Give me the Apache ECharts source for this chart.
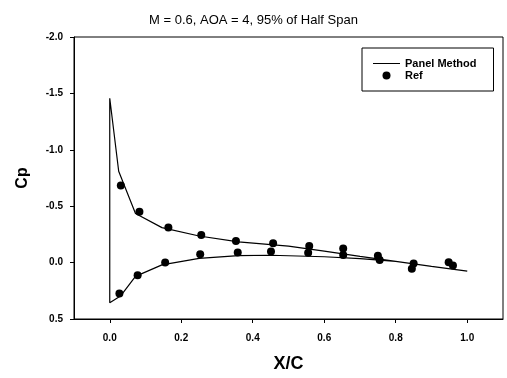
<!DOCTYPE html>
<html>
<head>
<meta charset="utf-8">
<script src="https://cdn.jsdelivr.net/npm/echarts@6/dist/echarts.min.js"></script>
<style>
  html, body { margin: 0; padding: 0; background: #fff; }
  #chart { width: 507px; height: 378px; }
</style>
</head>
<body>
<div id="chart"></div>
<script>
// panel method curve, upper surface from trailing edge to leading edge
const upperX = [1.0, 0.9, 0.8, 0.7, 0.6, 0.5, 0.36, 0.25, 0.146, 0.072, 0.025, 0.0];
const upperCp = [0.075, 0.034, -0.011, -0.056, -0.102, -0.146, -0.183, -0.236, -0.31, -0.436, -0.81, -1.457];
// lower surface from leading edge back to trailing edge
const lowerX = [0.0, 0.03, 0.072, 0.146, 0.25, 0.36, 0.45, 0.6, 0.7, 0.8, 0.9, 1.0];
const lowerCp = [0.355, 0.297, 0.122, 0.02, -0.038, -0.061, -0.065, -0.052, -0.035, -0.01, 0.034, 0.075];

// reference data points
const refUpperX = [0.031, 0.083, 0.164, 0.256, 0.353, 0.457, 0.558, 0.653, 0.75, 0.85, 0.948];
const refUpperCp = [-0.683, -0.451, -0.311, -0.244, -0.192, -0.172, -0.148, -0.125, -0.061, 0.009, -0.003];
const refLowerX = [0.027, 0.078, 0.155, 0.253, 0.358, 0.451, 0.555, 0.653, 0.755, 0.845, 0.96];
const refLowerCp = [0.273, 0.113, 0.0, -0.073, -0.09, -0.099, -0.087, -0.067, -0.023, 0.055, 0.026];

const xTicks = [0.0, 0.2, 0.4, 0.6, 0.8, 1.0];
const yTicks = [-2.0, -1.5, -1.0, -0.5, 0.0, 0.5];

const font = 'Arial, "Liberation Sans", sans-serif';

const pair = (xs, ys) => xs.map((x, i) => [x, ys[i]]);
const panelData = pair(upperX, upperCp).concat(pair(lowerX, lowerCp));
const refData = pair(refUpperX, refUpperCp).concat(pair(refLowerX, refLowerCp));

const chart = echarts.init(document.getElementById('chart'));
chart.setOption({
  backgroundColor: '#fff',
  animation: false,
  title: {
    text: 'M = 0.6, AOA = 4, 95% of Half Span',
    left: 'center',
    top: 9,
    textStyle: { fontFamily: font, fontSize: 13, fontWeight: 'normal', color: '#000' }
  },
  grid: {
    left: 74,
    right: 4,
    top: 37,
    bottom: 55,
    show: true,
    borderColor: '#000',
    borderWidth: 1
  },
  legend: {
    orient: 'vertical',
    left: 362,
    top: 48,
    padding: [10, 17, 10, 11],
    itemWidth: 27,
    itemHeight: 8,
    itemGap: 1,
    borderColor: '#000',
    borderWidth: 1,
    textStyle: { fontFamily: font, fontSize: 11, fontWeight: 'bold', color: '#000' },
    data: [
      { name: 'Panel Method', icon: 'path://M0,0H27V1H0Z', itemStyle: { color: '#000' } },
      { name: 'Ref', icon: 'circle', itemStyle: { color: '#000', opacity: 1 } }
    ]
  },
  xAxis: {
    type: 'value',
    min: -0.1,
    max: 1.1,
    name: 'X/C',
    nameLocation: 'middle',
    nameGap: 36,
    nameTextStyle: { fontFamily: font, fontSize: 18, fontWeight: 'bold', color: '#000' },
    splitLine: { show: false },
    axisLine: { show: true, onZero: false, lineStyle: { color: '#000', width: 1 } },
    axisTick: { show: true, length: 4, customValues: xTicks, lineStyle: { color: '#000' } },
    axisLabel: {
      customValues: xTicks,
      margin: 14,
      fontFamily: font,
      fontSize: 10,
      fontWeight: 'bold',
      color: '#000',
      formatter: v => v.toFixed(1)
    }
  },
  yAxis: {
    type: 'value',
    inverse: true,
    min: -2.0,
    max: 0.5,
    interval: 0.5,
    name: 'Cp',
    nameLocation: 'middle',
    nameGap: 43,
    nameTextStyle: { fontFamily: font, fontSize: 16, fontWeight: 'bold', color: '#000' },
    splitLine: { show: false },
    axisLine: { show: true, onZero: false, lineStyle: { color: '#000', width: 1 } },
    axisTick: { show: true, length: 4, customValues: yTicks, lineStyle: { color: '#000' } },
    axisLabel: {
      customValues: yTicks,
      margin: 11,
      fontFamily: font,
      fontSize: 10,
      fontWeight: 'bold',
      color: '#000',
      formatter: v => v.toFixed(1)
    }
  },
  series: [
    {
      name: 'Panel Method',
      type: 'line',
      data: panelData,
      symbol: 'none',
      lineStyle: { color: '#000', width: 1.2 },
      itemStyle: { color: '#000' }
    },
    {
      name: 'Ref',
      type: 'scatter',
      data: refData,
      symbol: 'circle',
      symbolSize: 8,
      itemStyle: { color: '#000', opacity: 1 }
    }
  ]
});
</script>
</body>
</html>
